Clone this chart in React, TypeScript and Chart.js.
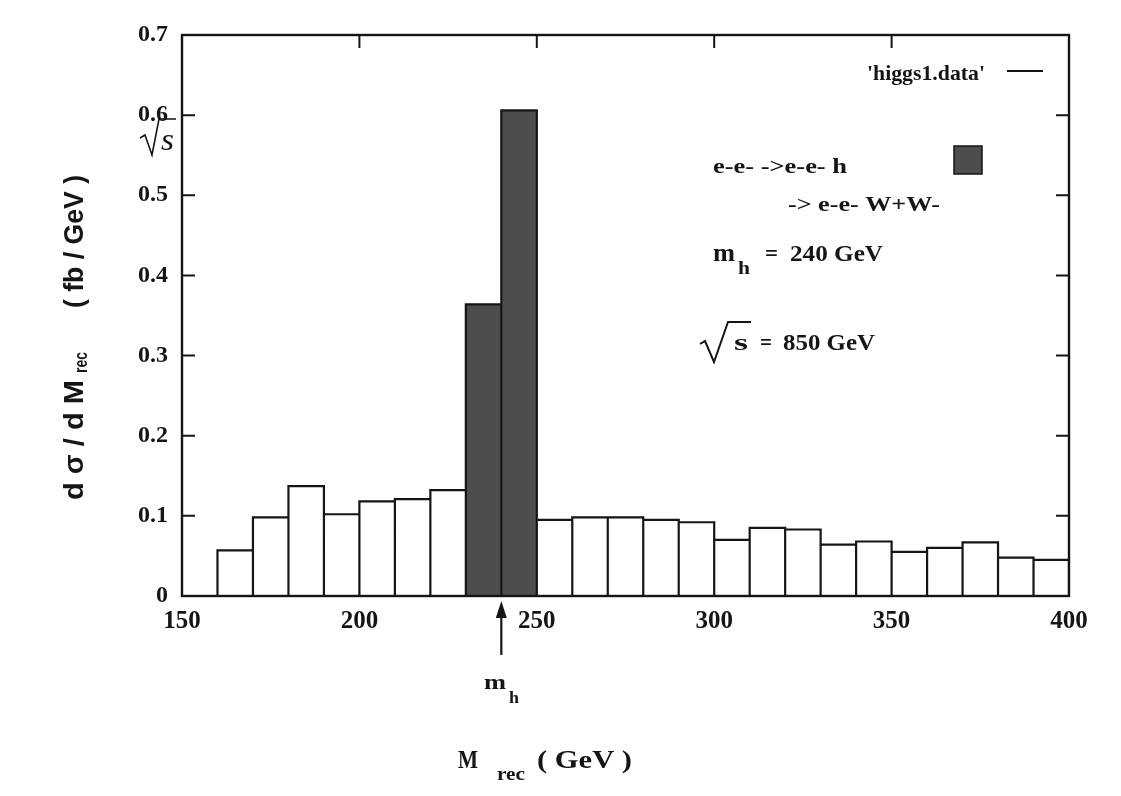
import React, { useEffect, useRef } from "react";
import { Chart, registerables } from "chart.js";

Chart.register(...registerables);

// ---------------- data ----------------
const binStarts = [160, 170, 180, 190, 200, 210, 220, 230, 240, 250, 260, 270, 280, 290, 300, 310, 320, 330, 340, 350, 360, 370, 380, 390];
const binValues = [0.057, 0.098, 0.137, 0.102, 0.118, 0.121, 0.132, 0.364, 0.606, 0.095, 0.098, 0.098, 0.095, 0.092, 0.07, 0.085, 0.083, 0.064, 0.068, 0.055, 0.06, 0.067, 0.048, 0.045];
const signalBins = [230, 240];
const binWidth = 10;
const xTickValues = [150, 200, 250, 300, 350, 400];
const yTickValues = [0, 0.1, 0.2, 0.3, 0.4, 0.5, 0.6, 0.7];
const higgsMass = 240;
const legendLabel = "'higgs1.data'";
const processLine1 = "e-e- ->e-e- h";
const processLine2 = "-> e-e- W+W-";
const massValueText = "240 GeV";
const energyValueText = "850 GeV";

// ---------------- style ----------------
const INK = "#151515";
const DARK = "#4d4d4d";
const SERIF = "'Liberation Serif', 'Times New Roman', serif";
const SANS = "'Liberation Sans', Arial, sans-serif";

function drawFit(ctx: CanvasRenderingContext2D, s: string, x: number, y: number, font: string, w?: number) {
  ctx.font = font;
  if (!w) {
    ctx.fillText(s, x, y);
    return;
  }
  const m = ctx.measureText(s).width;
  ctx.save();
  ctx.translate(x, y);
  ctx.scale(w / m, 1);
  ctx.fillText(s, 0, 0);
  ctx.restore();
}

const annotPlugin = {
  id: "annot",
  afterDraw(chart: any) {
    const { ctx, chartArea: a, scales } = chart;
    const xs = scales.x;
    const ys = scales.y;
    ctx.save();
    ctx.strokeStyle = INK;
    ctx.fillStyle = INK;
    ctx.lineWidth = 2.4;
    ctx.textAlign = "left";
    ctx.textBaseline = "alphabetic";

    // frame
    ctx.strokeRect(a.left, a.top, a.right - a.left, a.bottom - a.top);

    // inward ticks, mirrored
    const T = 13;
    ctx.lineWidth = 2;
    ctx.beginPath();
    yTickValues.forEach((v) => {
      const py = ys.getPixelForValue(v);
      if (py <= a.top + 1 || py >= a.bottom - 1) return;
      ctx.moveTo(a.left, py);
      ctx.lineTo(a.left + T, py);
      ctx.moveTo(a.right, py);
      ctx.lineTo(a.right - T, py);
    });
    xTickValues.forEach((v) => {
      const px = xs.getPixelForValue(v);
      if (px <= a.left + 1 || px >= a.right - 1) return;
      ctx.moveTo(px, a.top);
      ctx.lineTo(px, a.top + T);
    });
    ctx.stroke();

    // legend
    drawFit(ctx, legendLabel, 867, 80, `bold 22px ${SERIF}`, 118);
    ctx.beginPath();
    ctx.moveTo(1007, 71);
    ctx.lineTo(1043, 71);
    ctx.stroke();

    ctx.fillStyle = DARK;
    ctx.fillRect(954, 146, 28, 28);
    ctx.lineWidth = 1.5;
    ctx.strokeRect(954, 146, 28, 28);
    ctx.fillStyle = INK;
    ctx.lineWidth = 2;

    drawFit(ctx, processLine1, 713, 173, `bold 21px ${SERIF}`, 134);
    drawFit(ctx, processLine2, 788, 211, `bold 21px ${SERIF}`, 152);

    // m_h = 240 GeV
    drawFit(ctx, "m", 713, 261, `bold 25px ${SERIF}`, 22);
    drawFit(ctx, "h", 738, 274, `bold 18px ${SERIF}`, 12);
    drawFit(ctx, "=", 765, 261, `bold 23px ${SERIF}`, 13);
    drawFit(ctx, massValueText, 790, 261, `bold 24px ${SERIF}`, 93);

    // sqrt(s) = 850 GeV
    ctx.beginPath();
    ctx.moveTo(700, 344);
    ctx.lineTo(705, 341);
    ctx.lineTo(714, 362);
    ctx.lineTo(728, 322);
    ctx.lineTo(751, 322);
    ctx.stroke();
    drawFit(ctx, "s", 734, 350, `bold 23px ${SERIF}`, 14);
    drawFit(ctx, "=", 760, 350, `bold 23px ${SERIF}`, 12);
    drawFit(ctx, energyValueText, 783, 350, `bold 24px ${SERIF}`, 92);

    // arrow at m_h below axis
    const ax = xs.getPixelForValue(higgsMass);
    ctx.lineWidth = 2.2;
    ctx.beginPath();
    ctx.moveTo(ax, 655);
    ctx.lineTo(ax, 614);
    ctx.stroke();
    ctx.beginPath();
    ctx.moveTo(ax, 601);
    ctx.lineTo(ax - 5.5, 618);
    ctx.lineTo(ax + 5.5, 618);
    ctx.closePath();
    ctx.fill();
    drawFit(ctx, "m", 484, 689, `bold 22px ${SERIF}`, 22);
    drawFit(ctx, "h", 509, 703, `bold 17px ${SERIF}`, 10);

    // x title
    drawFit(ctx, "M", 458, 768, `bold 25px ${SERIF}`, 20);
    drawFit(ctx, "rec", 497, 780, `bold 18px ${SERIF}`, 28);
    drawFit(ctx, "( GeV )", 537, 768, `bold 25px ${SERIF}`, 95);

    // y title (rotated)
    ctx.save();
    ctx.translate(83, 500);
    ctx.rotate(-Math.PI / 2);
    drawFit(ctx, "d σ / d M", 0, 0, `bold 28px ${SANS}`, 120);
    drawFit(ctx, "rec", 127, 4, `bold 18px ${SANS}`, 21);
    drawFit(ctx, "( fb / GeV )", 192, 0, `bold 27px ${SANS}`, 133);
    ctx.restore();

    // stray sqrt(s) glyph at upper left
    ctx.lineWidth = 1.6;
    ctx.beginPath();
    ctx.moveTo(140, 138);
    ctx.lineTo(145, 135);
    ctx.lineTo(152, 155);
    ctx.lineTo(159, 119);
    ctx.lineTo(176, 119);
    ctx.stroke();
    drawFit(ctx, "s", 161, 150, `italic 32px ${SERIF}`, 13);

    ctx.restore();
  },
};

export default function App() {
  const ref = useRef<HTMLCanvasElement | null>(null);

  useEffect(() => {
    if (!ref.current) return;

    const barData = binStarts.map((s, i) => ({ x: s + binWidth / 2, y: binValues[i] }));
    const outline: { x: number; y: number }[] = [];
    binStarts.forEach((s, i) => {
      const v = binValues[i];
      outline.push({ x: s, y: 0 }, { x: s, y: v }, { x: s + binWidth, y: v }, { x: s + binWidth, y: 0 });
    });

    const chart = new Chart(ref.current, {
      type: "bar",
      data: {
        datasets: [
          {
            type: "line",
            label: legendLabel,
            data: outline,
            borderColor: INK,
            borderWidth: 2.2,
            pointRadius: 0,
            tension: 0,
            fill: false,
            order: 0,
            borderJoinStyle: "miter",
          } as any,
          {
            type: "bar",
            label: "signal",
            data: barData,
            backgroundColor: (c: any) =>
              signalBins.includes(binStarts[c.dataIndex]) ? DARK : "#ffffff",
            borderWidth: 0,
            barPercentage: 1,
            categoryPercentage: 1,
            order: 1,
          } as any,
        ],
      },
      options: {
        responsive: false,
        animation: false,
        devicePixelRatio: 1,
        layout: { padding: { top: 35, right: 52, left: 0, bottom: 0 } },
        plugins: { legend: { display: false }, tooltip: { enabled: false } },
        scales: {
          x: {
            type: "linear",
            min: 150,
            max: 400,
            offset: false,
            grid: { display: false, drawTicks: false },
            border: { display: false },
            afterBuildTicks: (s: any) => {
              s.ticks = xTickValues.map((v) => ({ value: v }));
            },
            afterFit: (s: any) => {
              s.height = 200;
            },
            ticks: {
              autoSkip: false,
              maxRotation: 0,
              padding: 11,
              color: INK,
              font: { family: SERIF, size: 25, weight: "bold" },
              callback: (v: any) => String(v),
            },
          },
          y: {
            type: "linear",
            min: 0,
            max: 0.7,
            grid: { display: false, drawTicks: false },
            border: { display: false },
            afterBuildTicks: (s: any) => {
              s.ticks = yTickValues.map((v) => ({ value: v }));
            },
            afterFit: (s: any) => {
              s.width = 182;
            },
            ticks: {
              autoSkip: false,
              padding: 14,
              color: INK,
              font: { family: SERIF, size: 24, weight: "bold" },
              callback: (v: any) => (Number(v) === 0 ? "0" : Number(v).toFixed(1)),
            },
          },
        },
      } as any,
      plugins: [annotPlugin],
    });

    return () => chart.destroy();
  }, []);

  return (
    <div style={{ position: "absolute", left: 0, top: 0, width: 1121, height: 796, background: "#ffffff" }}>
      <canvas ref={ref} width={1121} height={796} style={{ display: "block" }} />
    </div>
  );
}
